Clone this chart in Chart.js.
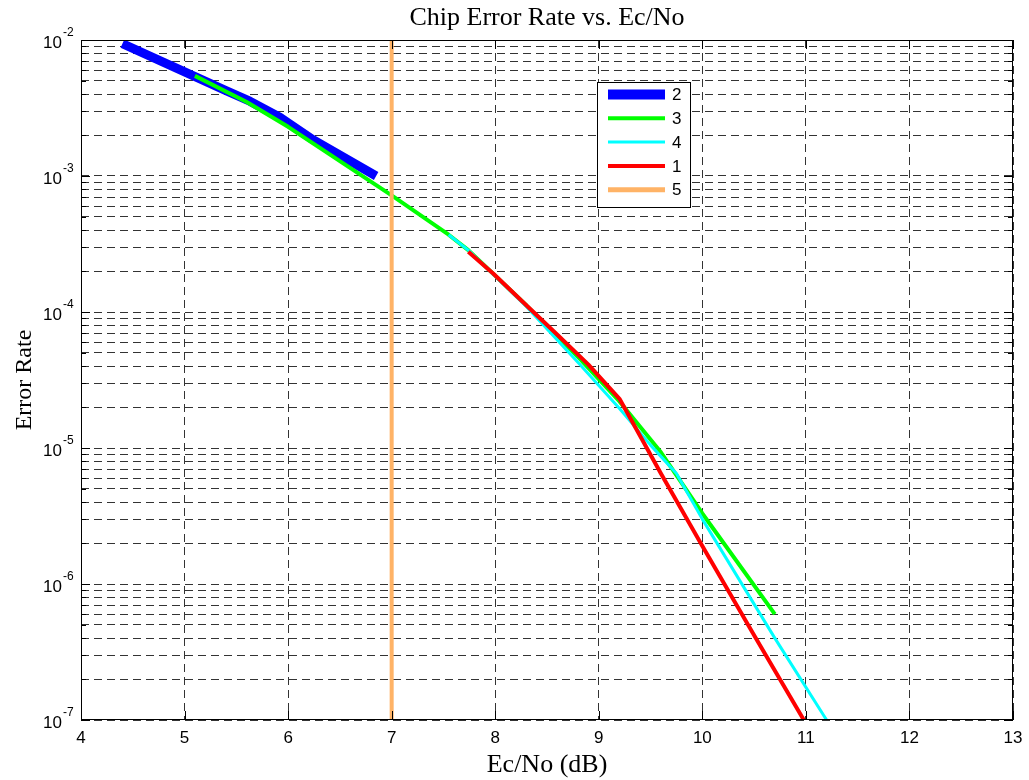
<!DOCTYPE html>
<html>
<head>
<meta charset="utf-8">
<script src="https://cdn.jsdelivr.net/npm/chart.js@4.4.1/dist/chart.umd.min.js"></script>
<style>
html,body{margin:0;padding:0;background:#fff;}
#wrap{width:1029px;height:780px;position:relative;}
</style>
</head>
<body>
<div id="wrap"><canvas id="c" width="1029" height="780"></canvas></div>
<script>
// ---- text ----
const chartTitle = 'Chip Error Rate vs. Ec/No';
const xAxisLabel = 'Ec/No (dB)';
const yAxisLabel = 'Error Rate';

// ---- axes ----
const xTicks = [4, 5, 6, 7, 8, 9, 10, 11, 12, 13];
const yDecades = [-7, -6, -5, -4, -3, -2];
const yMin = 1e-7;
const yMax = 1e-2;

// ---- series (legend order) ----
const seriesNames = ['2', '3', '4', '1', '5'];

const s2x = [4.4, 5.4, 5.63, 5.92, 6.24, 6.85];
const s2y = [9.4e-3, 4.25e-3, 3.55e-3, 2.7e-3, 1.85e-3, 1.0e-3];

const s3x = [5.1, 5.6, 6.0, 7.0, 7.55, 7.74, 8.3, 8.82, 9.2, 9.6, 10.0, 10.7];
const s3y = [5.45e-3, 3.5e-3, 2.3e-3, 7.2e-4, 3.7e-4, 2.85e-4, 1.12e-4, 4.5e-5, 2.2e-5, 9.3e-6, 3.3e-6, 6.0e-7];

const s4x = [7.55, 7.74, 8.3, 8.82, 9.2, 9.5, 9.75, 10.0, 10.7, 11.2];
const s4y = [3.7e-4, 2.85e-4, 1.1e-4, 4.1e-5, 1.95e-5, 1.05e-5, 6.5e-6, 3.0e-6, 4.0e-7, 1.0e-7];

const s1x = [7.74, 7.98, 8.3, 8.6, 8.9, 9.2, 9.6, 10.0, 10.5, 10.98];
const s1y = [2.77e-4, 1.92e-4, 1.12e-4, 6.8e-5, 4.1e-5, 2.3e-5, 6.5e-6, 1.9e-6, 4.2e-7, 1.0e-7];

const s5x = [7, 7];
const s5y = [1e-7, 1e-2];

const toPts = (xs, ys) => xs.map((x, i) => ({ x: x, y: ys[i] }));

const yTickValues = [];
yDecades.forEach((e, i) => {
  const kMax = (i === yDecades.length - 1) ? 1 : 9;
  for (let k = 1; k <= kMax; k++) yTickValues.push({ value: k * Math.pow(10, e), major: k === 1 });
});

const SANS = '"Liberation Sans", Arial, Helvetica, sans-serif';
const SERIF = '"Liberation Serif", "Times New Roman", serif';

const decor = {
  id: 'decor',
  afterDraw(chart) {
    const { ctx, chartArea: a, scales } = chart;
    const xs = scales.x, ys = scales.y;
    ctx.save();
    ctx.setLineDash([]);
    // tick marks inside the box
    ctx.strokeStyle = '#000';
    ctx.lineWidth = 1;
    ctx.beginPath();
    xTicks.forEach(v => {
      const px = Math.round(xs.getPixelForValue(v)) + 0.5;
      ctx.moveTo(px, a.bottom); ctx.lineTo(px, a.bottom - 9);
      ctx.moveTo(px, a.top); ctx.lineTo(px, a.top + 9);
    });
    yTickValues.forEach(t => {
      const py = Math.round(ys.getPixelForValue(t.value)) + 0.5;
      const len = t.major ? 9 : 5;
      ctx.moveTo(a.left, py); ctx.lineTo(a.left + len, py);
      ctx.moveTo(a.right, py); ctx.lineTo(a.right - len, py);
    });
    ctx.stroke();
    // box
    ctx.strokeRect(Math.round(a.left) + 0.5, Math.round(a.top) + 0.5,
                   Math.round(a.right - a.left) - 1, Math.round(a.bottom - a.top) - 1);

    ctx.fillStyle = '#000';
    // x tick labels
    ctx.font = '17px ' + SANS;
    ctx.textAlign = 'center';
    ctx.textBaseline = 'middle';
    xTicks.forEach(v => {
      ctx.fillText(String(v), xs.getPixelForValue(v), a.bottom + 18);
    });
    // y tick labels 10^n
    yDecades.forEach(e => {
      const py = ys.getPixelForValue(Math.pow(10, e));
      ctx.font = '17px ' + SANS;
      ctx.textAlign = 'right';
      ctx.textBaseline = 'middle';
      ctx.fillText('10', a.left - 19, py + 3);
      ctx.font = '12px ' + SANS;
      ctx.textAlign = 'left';
      ctx.fillText(String(e), a.left - 18, py - 7);
    });
    // title and axis labels
    ctx.font = '26px ' + SERIF;
    ctx.textAlign = 'center';
    ctx.textBaseline = 'alphabetic';
    const cx = (a.left + a.right) / 2;
    ctx.fillText(chartTitle, cx, 25);
    ctx.fillText(xAxisLabel, cx, a.bottom + 52);
    ctx.save();
    ctx.translate(31, (a.top + a.bottom) / 2);
    ctx.rotate(-Math.PI / 2);
    ctx.font = '24px ' + SERIF;
    ctx.fillText(yAxisLabel, 0, 0);
    ctx.restore();

    // legend
    const lx = a.left + 516, ly = a.top + 42, lw = 93, lh = 125;
    ctx.fillStyle = '#fff';
    ctx.fillRect(lx, ly, lw, lh);
    ctx.strokeStyle = '#000';
    ctx.lineWidth = 1;
    ctx.strokeRect(lx + 0.5, ly + 0.5, lw, lh);
    chart.data.datasets.forEach((ds, i) => {
      const yy = ly + 12.5 + i * 23.8;
      ctx.strokeStyle = ds.borderColor;
      ctx.lineWidth = ds.legendWidth;
      ctx.lineCap = 'butt';
      ctx.beginPath();
      ctx.moveTo(lx + 11, yy);
      ctx.lineTo(lx + 68, yy);
      ctx.stroke();
      ctx.fillStyle = '#000';
      ctx.font = '17px ' + SANS;
      ctx.textAlign = 'left';
      ctx.textBaseline = 'middle';
      ctx.fillText(ds.label, lx + 75, yy + 1);
    });
    ctx.restore();
  }
};

const common = { fill: false, tension: 0, pointRadius: 0, pointHoverRadius: 0, borderCapStyle: 'butt', borderJoinStyle: 'round' };

new Chart(document.getElementById('c'), {
  type: 'line',
  data: {
    datasets: [
      Object.assign({ label: seriesNames[0], data: toPts(s2x, s2y), borderColor: '#0000ff', borderWidth: 9, legendWidth: 10, order: 5 }, common),
      Object.assign({ label: seriesNames[1], data: toPts(s3x, s3y), borderColor: '#00ff00', borderWidth: 4, legendWidth: 4, order: 4 }, common),
      Object.assign({ label: seriesNames[2], data: toPts(s4x, s4y), borderColor: '#00ffff', borderWidth: 3, legendWidth: 3, order: 3 }, common),
      Object.assign({ label: seriesNames[3], data: toPts(s1x, s1y), borderColor: '#ff0000', borderWidth: 4, legendWidth: 4, order: 2 }, common),
      Object.assign({ label: seriesNames[4], data: toPts(s5x, s5y), borderColor: '#ffb366', borderWidth: 4, legendWidth: 5, order: 1 }, common)
    ]
  },
  options: {
    responsive: false,
    animation: false,
    devicePixelRatio: 1,
    layout: { padding: { left: 81, top: 40, right: 16, bottom: 60 } },
    plugins: { legend: { display: false }, tooltip: { enabled: false }, title: { display: false } },
    events: [],
    scales: {
      x: {
        type: 'linear', min: 4, max: 13,
        afterBuildTicks: (s) => { s.ticks = xTicks.map(v => ({ value: v })); },
        ticks: { display: false, autoSkip: false },
        grid: { color: '#333', lineWidth: 1, drawTicks: false },
        border: { display: false, dash: [8, 5] }
      },
      y: {
        type: 'logarithmic', min: yMin, max: yMax,
        afterBuildTicks: (s) => { s.ticks = yTickValues.map(t => ({ value: t.value, major: t.major })); },
        ticks: { display: false, autoSkip: false },
        grid: { color: '#333', lineWidth: 1, drawTicks: false },
        border: { display: false, dash: [8, 5] }
      }
    }
  },
  plugins: [decor]
});
</script>
</body>
</html>
